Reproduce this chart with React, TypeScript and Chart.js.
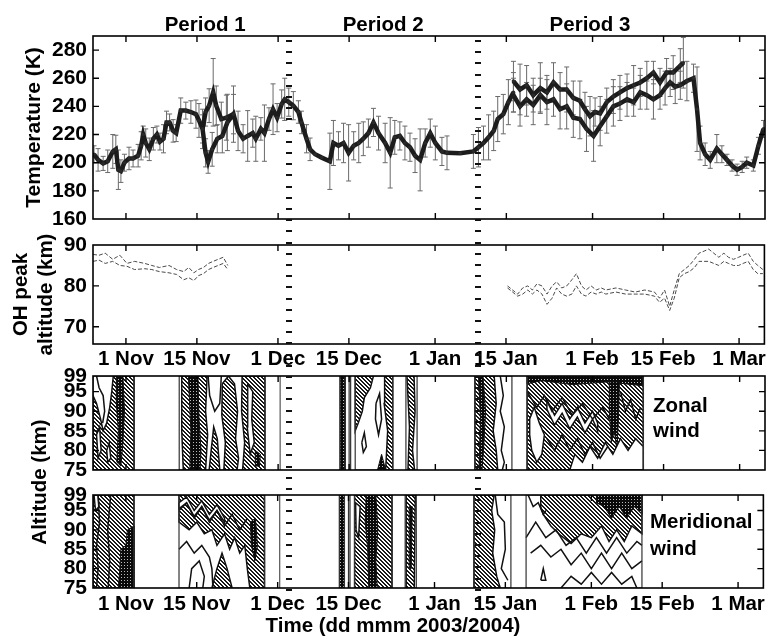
import React, { useEffect, useRef } from "react";
import { Chart, registerables } from "chart.js";
Chart.register(...registerables);

const FONT = "'Liberation Sans', Arial, Helvetica, sans-serif";

// x axis: days since 1 Nov 2003
const X_MIN = -6.5;
const X_MAX = 126;
const dateTickDays = [0, 14, 30, 44, 61, 75, 92, 106, 121];
const dateTickLabels = ["1 Nov", "15 Nov", "1 Dec", "15 Dec", "1 Jan", "15 Jan", "1 Feb", "15 Feb", "1 Mar"];
const periodBoundaryDays = [32.2, 69.4];
const periodNames = ["Period 1", "Period 2", "Period 3"];
const periodCenterDays = [15.6, 50.7, 91.5];

const tempTicks = [160, 180, 200, 220, 240, 260, 280];
const ohTicks = [70, 80, 90];
const altTicks = [75, 80, 85, 90, 95, 99];

// [day, temperature K, error K]
const tempMain: number[][] = [
  [-6.3, 206, 6], [-5.5, 202, 8], [-4.5, 199.5, 5], [-3.6, 201, 8], [-2.6, 208, 12], [-2.0, 209.5, 10],
  [-1.5, 195, 14], [-1.0, 194, 8], [-0.3, 200, 6], [0.6, 203, 8], [1.4, 203, 6], [2.4, 205, 8],
  [3.0, 212, 10], [3.4, 220, 6], [3.9, 214, 10], [4.6, 209.5, 8], [5.4, 217, 8], [6.1, 220, 6],
  [6.7, 215, 6], [7.4, 217, 10], [8.0, 228.6, 8], [8.6, 228.6, 6], [9.3, 222.6, 8], [9.9, 221, 6],
  [10.8, 237, 9], [11.8, 237, 6], [12.8, 236, 8], [13.8, 234.5, 10], [14.4, 230, 12], [15.1, 224, 14],
  [15.7, 207, 10], [16.2, 200.5, 8], [17.0, 209.5, 12], [18.0, 217, 10], [19.0, 219, 12], [20.0, 228.6, 20],
  [21.2, 234.5, 20], [22.1, 222.6, 14], [23.1, 217, 10], [24.0, 219, 18], [25.0, 221, 10], [25.6, 217, 16],
  [26.6, 224, 8], [27.3, 221, 20], [28.2, 231, 8], [29.0, 238, 18], [29.8, 232, 10], [30.7, 241.7, 10],
  [31.3, 245, 15], [32.1, 243, 10], [33.0, 240.5, 10], [34.0, 236, 8], [34.6, 228.6, 8], [35.6, 217, 10],
  [36.3, 209.5, 8], [37.3, 206, 0], [38.6, 203.6, 0], [40.2, 201, 20], [40.9, 214, 16], [41.9, 212, 10],
  [42.9, 214, 14], [43.9, 207, 20], [44.9, 212, 10], [45.9, 214, 14], [46.8, 217, 12], [47.8, 221, 10],
  [48.8, 228.6, 10], [49.8, 221, 12], [51.1, 214, 14], [52.1, 207, 25], [53.0, 218, 12], [54.0, 219, 10],
  [55.0, 214, 12], [56.0, 211, 10], [57.0, 205, 12], [58.0, 202, 22], [59.0, 214, 10], [60.0, 221, 10],
  [61.0, 214, 12], [62.3, 208, 10], [63.3, 207, 12], [65.9, 206.7, 0], [68.5, 208, 12], [69.5, 211, 14],
  [70.5, 214, 12], [71.5, 218, 16], [72.5, 222.6, 14], [73.3, 231, 16], [74.4, 234.5, 14], [75.4, 243, 16],
  [76.4, 250, 14],
];
const tempPeriod1Upper: number[][] = [
  [15.1, 224, 10], [15.7, 236, 10], [16.4, 240.5, 12], [17.2, 250, 24], [17.8, 240.5, 14],
  [18.8, 231, 12], [19.8, 232, 16], [21.2, 234.5, 14],
];
const tempPeriod3Upper: number[][] = [
  [76.4, 258, 14], [77.7, 252, 18], [79.0, 255, 14], [80.3, 248, 12], [81.7, 253, 18], [83.0, 250, 12],
  [84.3, 257, 14], [85.6, 252, 12], [86.9, 252, 16], [88.2, 246, 12], [89.5, 244, 14], [90.5, 238, 12],
  [91.5, 233, 14], [92.5, 236, 10], [93.5, 235, 12], [94.8, 243, 10], [96.1, 247, 12], [97.4, 250, 12],
  [98.8, 253, 10], [100.1, 255, 14], [101.4, 257, 10], [102.7, 260, 12], [104.0, 264, 8], [105.3, 257, 10],
  [106.6, 264, 10], [107.9, 264, 12], [109.3, 269, 12], [109.9, 271, 18],
];
const tempPeriod3Lower: number[][] = [
  [76.4, 248, 12], [77.7, 240, 14], [79.0, 245, 12], [80.3, 241, 14], [81.7, 248, 12], [83.0, 243, 16],
  [84.3, 245, 12], [85.6, 238, 14], [86.9, 240, 16], [88.2, 232, 14], [89.5, 231, 14], [90.8, 224, 16],
  [92.2, 219, 18], [93.5, 226, 14], [94.8, 233, 12], [96.1, 240, 14], [97.4, 242, 12], [98.8, 245, 12],
  [100.1, 243, 10], [101.4, 250, 12], [102.7, 248, 10], [104.0, 245, 14], [105.3, 248, 10], [106.3, 253, 12],
  [107.3, 257, 10], [108.3, 254, 12], [109.3, 255, 10], [110.6, 258, 14], [111.9, 260, 10], [112.6, 238, 30],
  [113.2, 214, 12], [114.2, 206, 8], [115.2, 202, 6], [116.5, 210, 10], [117.5, 206, 6], [118.5, 202, 4],
  [119.5, 198, 4], [120.5, 195, 4], [121.5, 197, 4], [122.4, 200, 4], [123.7, 198, 4], [124.7, 212, 6],
  [125.7, 224, 6],
];

// OH peak altitude [day, km]
const ohPeriod1Upper: number[][] = [
  [-6.5, 87.7], [-5.3, 87.5], [-4.1, 88], [-2.6, 86.5], [-1.2, 87.5], [0.2, 85.5], [1.7, 86], [3.7, 85.5],
  [5.1, 85], [6.6, 84.5], [8.5, 85], [10.0, 84], [11.4, 83.5], [12.4, 84.5], [13.4, 83.2], [14.3, 84],
  [15.3, 84.5], [16.3, 85.5], [17.2, 86], [18.2, 86.5], [19.2, 87], [20.1, 85],
];
const ohPeriod1Lower: number[][] = [
  [-6.5, 86], [-5.3, 86.3], [-4.1, 85.5], [-2.6, 86], [-1.2, 85], [0.2, 84.8], [1.7, 84], [3.7, 84.2],
  [5.1, 84], [6.6, 83.5], [8.5, 83.2], [10.0, 82.8], [11.4, 81.5], [12.4, 82], [13.4, 81.3], [14.3, 82.5],
  [15.3, 83], [16.3, 84], [17.2, 84.5], [18.2, 85], [19.2, 85.5], [20.1, 84],
];
const ohPeriod3Upper: number[][] = [
  [75.3, 80], [76.3, 79], [77.3, 78], [78.3, 79.5], [79.3, 80], [80.2, 79], [81.1, 80.5], [82.1, 80],
  [83.1, 78], [84.1, 80], [85.0, 81], [86.0, 79.5], [87.0, 80], [88.0, 81.5], [88.9, 83], [89.9, 80],
  [90.8, 79], [91.8, 80], [92.8, 79], [93.8, 79.5], [94.7, 79], [96.7, 79.5], [98.6, 79], [100.5, 78.5],
  [102.4, 79], [104.3, 78.5], [105.3, 77], [106.3, 79], [107.3, 75], [108.2, 79], [109.2, 83], [110.2, 84],
  [111.2, 85], [112.2, 86.5], [113.1, 88], [114.1, 88.5], [115.0, 89], [116.0, 88], [117.0, 87], [118.0, 88],
  [118.9, 87], [119.9, 86.5], [120.9, 87], [121.8, 87.5], [122.8, 88], [123.8, 86], [124.7, 85], [125.7, 84],
];
const ohPeriod3Lower: number[][] = [
  [75.3, 79.5], [76.3, 78.5], [77.3, 77.5], [78.3, 78], [79.3, 79], [80.2, 78], [81.1, 79], [82.1, 78],
  [83.1, 75.5], [84.1, 77], [85.0, 79.5], [86.0, 78], [87.0, 77.5], [88.0, 78], [88.9, 80], [89.9, 78],
  [90.8, 77.5], [91.8, 78.5], [92.8, 78], [93.8, 78.5], [94.7, 78], [96.7, 78.5], [98.6, 78], [100.5, 78],
  [102.4, 78], [104.3, 77.5], [105.3, 76], [106.3, 77], [107.3, 74], [108.2, 77], [109.2, 82], [110.2, 83],
  [111.2, 83.5], [112.2, 84.5], [113.1, 86], [114.1, 86], [115.0, 86], [116.0, 85.5], [117.0, 85], [118.0, 86],
  [118.9, 85.5], [119.9, 85], [120.9, 85], [121.8, 85.5], [122.8, 86], [123.8, 84], [124.7, 83], [125.7, 83],
];

// Wind data windows [start day, end day]
const zonalWindows: number[][] = [[-6.5, 1.6], [10.5, 27.4], [42.2, 43.2], [44.0, 44.3], [45.2, 52.6], [55.2, 57.4], [68.8, 76.1], [79.1, 102.0]];
const meridionalWindows: number[][] = [[-6.5, 1.6], [10.5, 27.4], [42.2, 43.2], [44.0, 44.3], [45.2, 52.6], [55.2, 57.4], [68.8, 76.1], [79.1, 102.0]];
const radarGapLineDays = [30.4];

// Contour regions [day, altitude km]
const zonalHatched: number[][][] = [
  [[-6.5, 75], [-6.5, 94], [-5.8, 92], [-5.0, 88], [-4.5, 85], [-3.8, 87], [-3.2, 91], [-2.8, 95], [-2.5, 99], [1.6, 99], [1.6, 75]],
  [[11.0, 99], [16.0, 99], [15.7, 90], [16.1, 84], [15.7, 75], [11.3, 75], [11.0, 85]],
  [[16.4, 75], [16.8, 80], [17.3, 86], [18.0, 83], [18.5, 75]],
  [[19.0, 97], [20.2, 99], [21.4, 97], [22.0, 90], [21.6, 83], [22.2, 78], [21.9, 75], [19.3, 75], [19.6, 82], [18.9, 89]],
  [[22.9, 99], [27.4, 99], [27.4, 75], [23.0, 75], [23.4, 82], [22.8, 90]],
  [[45.2, 99], [48.8, 99], [48.2, 96], [47.0, 93.5], [46.6, 90], [45.8, 87], [45.2, 85]],
  [[51.0, 99], [52.6, 99], [52.6, 75], [51.2, 75], [51.6, 85], [50.9, 92]],
  [[55.4, 99], [56.8, 99], [57.0, 90], [56.5, 80], [56.9, 75], [55.6, 75], [55.9, 86]],
  [[68.8, 99], [72.6, 99], [73.0, 92], [72.4, 85], [73.0, 80], [73.3, 75], [68.8, 75]],
  [[79.1, 75], [79.1, 99], [102.0, 99], [102.0, 75]],
];
const zonalDark: number[][][] = [
  [[-1.9, 99], [-0.6, 99], [-0.3, 90], [-0.6, 82], [-1.0, 76], [-1.8, 77], [-1.5, 85], [-1.9, 92]],
  [[12.3, 99], [14.2, 99], [14.4, 88], [14.8, 80], [14.6, 75], [12.6, 75], [12.8, 85]],
  [[25.5, 80], [26.5, 79], [26.3, 76], [25.6, 76]],
  [[42.2, 99], [43.2, 99], [43.2, 75], [42.2, 75]],
  [[49.6, 75], [50.4, 79], [51.2, 75]],
  [[69.5, 99], [70.4, 99], [70.9, 90], [70.5, 80], [70.2, 75], [69.6, 75], [69.9, 88]],
  [[79.1, 99], [102.0, 99], [102.0, 96.5], [95.0, 97.5], [88.0, 96.8], [82.0, 97.8], [79.1, 97]],
  [[95.3, 97.5], [97.3, 97.5], [97.1, 88], [96.8, 80], [96.3, 85], [95.7, 82], [95.3, 90]],
];
const zonalClear: number[][][] = [
  [[-5.8, 84], [-5.2, 86], [-4.9, 80], [-5.5, 78]],
  [[-3.8, 80], [-3.3, 82], [-3.0, 78], [-3.6, 77]],
  [[24.0, 97], [25.0, 95], [24.8, 88], [25.3, 82], [24.5, 79], [23.9, 86]],
  [[79.6, 88], [80.5, 91], [81.5, 87], [82.5, 84], [82.0, 79], [81.0, 77], [80.0, 80], [79.6, 84]],
  [[83.0, 93], [84.5, 89], [86.0, 92], [87.5, 88], [89.0, 91], [90.5, 87], [92.0, 90], [93.0, 87], [93.0, 85], [92.0, 88], [90.5, 84.5], [89.0, 88.5], [87.5, 85.5], [86.0, 89.5], [84.5, 86.5], [83.0, 90.5]],
  [[87.5, 75], [88.5, 79], [90.0, 77], [91.5, 81], [93.0, 78], [94.5, 82], [96.0, 79], [97.5, 83], [99.0, 80], [100.5, 83], [102.0, 81], [102.0, 75]],
];
const zonalContours: number[][][] = [
  [[-5.8, 99], [-5.3, 96], [-4.5, 94], [-4.2, 90], [-4.6, 87]],
  [[16.2, 99], [16.5, 94], [17.5, 90], [18.5, 92], [18.8, 99]],
  [[46.5, 82], [47.0, 84.5], [47.4, 81], [46.8, 79.5], [46.5, 82]],
  [[49.3, 92], [50.0, 94.5], [50.4, 88], [49.8, 84], [49.2, 88], [49.3, 92]],
  [[73.8, 99], [74.4, 94], [73.8, 90], [74.6, 86], [74.0, 80], [74.6, 77], [74.2, 75]],
  [[79.1, 95], [81.0, 91], [82.5, 94], [84.0, 90], [86.0, 93.5], [88.0, 89], [90.0, 92], [92.0, 88], [94.0, 91], [95.3, 88]],
  [[83.0, 83], [84.5, 80], [86.0, 84], [87.5, 80], [89.0, 83], [90.5, 79], [92.0, 82], [93.5, 78], [95.0, 81]],
  [[97.5, 95], [98.5, 90], [99.5, 93], [100.5, 88], [101.5, 91]],
];

const meridionalHatched: number[][][] = [
  [[-6.5, 75], [-6.5, 99], [1.6, 99], [1.6, 75]],
  [[10.5, 99], [27.4, 99], [27.4, 75], [24.5, 75], [24.0, 80], [23.5, 86], [22.5, 84], [21.5, 88], [20.5, 85], [19.5, 89], [18.0, 86], [17.0, 90], [15.5, 89], [14.0, 92], [12.5, 90], [10.5, 92]],
  [[17.0, 75], [18.0, 80], [19.0, 84], [20.0, 80], [21.0, 75]],
  [[45.2, 99], [52.6, 99], [52.6, 75], [45.2, 75]],
  [[55.4, 99], [57.2, 99], [57.0, 75], [55.5, 75]],
  [[68.8, 99], [72.8, 99], [72.3, 95], [72.9, 90], [72.5, 84], [73.3, 78], [74.0, 75], [68.8, 75]],
  [[82.0, 99], [102.0, 99], [102.0, 89], [100.0, 91], [98.5, 87], [97.0, 90], [95.5, 87], [94.0, 91], [92.0, 88], [90.0, 89], [88.0, 86.5], [86.0, 88.5], [84.0, 91], [82.5, 94], [82.0, 96]],
];
const meridionalDark: number[][][] = [
  [[-1.5, 75], [-1.2, 80], [-1.0, 85], [0.0, 86], [0.3, 90], [1.6, 91], [1.6, 75]],
  [[24.6, 92], [25.6, 93], [26.0, 86], [25.5, 82], [24.8, 86]],
  [[42.2, 99], [43.2, 99], [43.2, 75], [42.2, 75]],
  [[47.5, 99], [49.4, 99], [49.8, 90], [49.4, 82], [49.7, 75], [48.0, 75], [47.8, 85], [47.3, 92]],
  [[56.0, 96], [56.6, 96], [56.4, 80], [56.0, 80]],
  [[93.0, 99], [102.0, 99], [102.0, 94], [100.5, 96], [99.0, 93], [97.5, 96], [96.0, 93], [94.5, 96], [93.0, 97]],
];
const meridionalClear: number[][][] = [
  [[-6.3, 99], [-5.5, 99], [-5.3, 96], [-6.0, 95]],
  [[45.4, 97], [46.3, 96], [46.0, 88], [45.5, 90]],
  [[10.5, 97], [12.0, 98.5], [13.5, 95], [15.0, 97.5], [16.5, 94], [18.0, 96.5], [19.5, 93], [19.5, 92], [18.0, 95], [16.5, 92.5], [15.0, 96], [13.5, 93.5], [12.0, 97], [10.5, 95.5]],
];
const meridionalContours: number[][][] = [
  [[-5.8, 75], [-5.5, 80], [-5.8, 86], [-5.2, 92], [-5.5, 99]],
  [[-3.5, 75], [-3.2, 82], [-3.6, 90], [-3.0, 99]],
  [[10.5, 95], [12.0, 97], [13.5, 93], [15.0, 96], [16.5, 92], [18.0, 95], [19.5, 91], [21.0, 94], [22.5, 90], [24.0, 93]],
  [[10.5, 85], [12.0, 87], [13.5, 84], [15.0, 86], [16.5, 83], [17.0, 80], [17.2, 75]],
  [[12.5, 75], [13.0, 80], [14.5, 82], [15.5, 78], [15.2, 75]],
  [[73.0, 99], [73.5, 94], [74.8, 92], [75.0, 85], [74.2, 80], [75.5, 77]],
  [[79.1, 88], [81.0, 92], [83.0, 88], [85.0, 90], [87.0, 86], [89.0, 88], [91.0, 84], [93.0, 88], [95.0, 84], [97.0, 88], [99.0, 84], [101.0, 87], [102.0, 86]],
  [[80.0, 84], [82.0, 86], [84.0, 83], [86.0, 85], [88.0, 81], [90.0, 84], [92.0, 80], [94.0, 84], [96.0, 80], [98.0, 84], [100.0, 80], [102.0, 82]],
  [[86.0, 75], [88.0, 78], [90.0, 76], [92.0, 79], [94.0, 76], [96.0, 79], [98.0, 76], [100.0, 78], [101.0, 75]],
  [[82.0, 77], [82.5, 80], [83.0, 77], [82.0, 77]],
  [[79.5, 99], [80.5, 96], [81.5, 97], [82.5, 94], [83.0, 95]],
];

// ---------- helpers ----------
const W = 769;
const H = 640;
const PLOT_LEFT = 93;
const PLOT_RIGHT = 765;
const XAXIS_H = 30;

function boldFont(size: number) {
  return { family: FONT, size, weight: "bold" as const };
}

function xScale(showLabels: boolean, pad: number) {
  return {
    type: "linear",
    min: X_MIN,
    max: X_MAX,
    afterBuildTicks: (s: any) => {
      s.ticks = dateTickDays.map((v) => ({ value: v }));
    },
    afterFit: (s: any) => {
      s.height = XAXIS_H;
    },
    grid: { display: false, drawTicks: false },
    border: { display: false },
    ticks: {
      display: showLabels,
      autoSkip: false,
      maxRotation: 0,
      minRotation: 0,
      padding: pad,
      color: "#000",
      font: boldFont(20.5),
      callback: (v: number) => {
        const i = dateTickDays.indexOf(v);
        return i >= 0 ? dateTickLabels[i] : "";
      },
    },
  };
}

function yScale(min: number, max: number, ticks: number[], title?: any) {
  return {
    type: "linear",
    min,
    max,
    afterBuildTicks: (s: any) => {
      s.ticks = ticks.map((v) => ({ value: v }));
    },
    afterFit: (s: any) => {
      s.width = PLOT_LEFT;
    },
    grid: { display: false, drawTicks: false },
    border: { display: false },
    ticks: { autoSkip: false, padding: 6, color: "#000", font: boldFont(21) },
    title: title || { display: false },
  };
}

const frameTicksPlugin = {
  id: "frameTicks",
  afterDatasetsDraw(chart: any) {
    const { ctx, chartArea: a, scales } = chart;
    ctx.save();
    ctx.strokeStyle = "#000";
    ctx.lineWidth = 1.6;
    ctx.strokeRect(a.left, a.top, a.right - a.left, a.bottom - a.top);
    ctx.lineWidth = 1.4;
    ctx.beginPath();
    for (const d of dateTickDays) {
      const x = scales.x.getPixelForValue(d);
      ctx.moveTo(x, a.top);
      ctx.lineTo(x, a.top + 6);
      ctx.moveTo(x, a.bottom);
      ctx.lineTo(x, a.bottom - 6);
    }
    for (const t of scales.y.ticks) {
      const y = scales.y.getPixelForValue(t.value);
      if (y < a.top + 2 || y > a.bottom - 2) continue;
      ctx.moveTo(a.left, y);
      ctx.lineTo(a.left + 6, y);
      ctx.moveTo(a.right, y);
      ctx.lineTo(a.right - 6, y);
    }
    ctx.stroke();
    ctx.restore();
  },
};

const errorBarPlugin = {
  id: "errorBars",
  beforeDatasetsDraw(chart: any) {
    const { ctx, chartArea: a } = chart;
    const ys = chart.scales.y;
    ctx.save();
    ctx.beginPath();
    ctx.rect(a.left, a.top - 4, a.right - a.left, a.bottom - a.top + 4);
    ctx.clip();
    ctx.strokeStyle = "#6a6a6a";
    ctx.lineWidth = 1;
    chart.data.datasets.forEach((ds: any, i: number) => {
      if (!ds.errors) return;
      const meta = chart.getDatasetMeta(i);
      meta.data.forEach((pt: any, j: number) => {
        const e = ds.errors[j];
        if (!e) return;
        const v = ds.data[j].y;
        const x = pt.x;
        const y1 = ys.getPixelForValue(v + e);
        const y2 = ys.getPixelForValue(v - e);
        ctx.beginPath();
        ctx.moveTo(x, y1);
        ctx.lineTo(x, y2);
        ctx.moveTo(x - 2.5, y1);
        ctx.lineTo(x + 2.5, y1);
        ctx.moveTo(x - 2.5, y2);
        ctx.lineTo(x + 2.5, y2);
        ctx.stroke();
      });
    });
    ctx.restore();
  },
};

const periodPlugin = {
  id: "periods",
  afterDraw(chart: any) {
    const { ctx } = chart;
    const xs = chart.scales.x;
    ctx.save();
    ctx.fillStyle = "#000";
    ctx.font = `bold 20.5px ${FONT}`;
    ctx.textAlign = "center";
    ctx.textBaseline = "alphabetic";
    periodNames.forEach((n, i) => ctx.fillText(n, xs.getPixelForValue(periodCenterDays[i]), 31));
    ctx.fillStyle = "#111";
    for (const d of periodBoundaryDays) {
      const x = Math.round(xs.getPixelForValue(d));
      for (let y = 40; y < 604; y += 11.2) ctx.fillRect(x - 3, Math.round(y), 6, 2);
    }
    ctx.restore();
  },
};

function labelPlugin(lines: { text: string; x: number; y: number; align?: CanvasTextAlign; rotate?: boolean; size?: number }[]) {
  return {
    id: "labels",
    afterDraw(chart: any) {
      const { ctx } = chart;
      ctx.save();
      ctx.fillStyle = "#000";
      for (const l of lines) {
        ctx.save();
        ctx.font = `bold ${l.size || 20.5}px ${FONT}`;
        ctx.textAlign = l.align || "left";
        ctx.textBaseline = l.rotate ? "middle" : "alphabetic";
        ctx.translate(l.x, l.y);
        if (l.rotate) ctx.rotate(-Math.PI / 2);
        ctx.fillText(l.text, 0, 0);
        ctx.restore();
      }
      ctx.restore();
    },
  };
}

function makePatterns(ctx: CanvasRenderingContext2D) {
  const h = document.createElement("canvas");
  h.width = 4;
  h.height = 4;
  const hc = h.getContext("2d")!;
  hc.fillStyle = "#fff";
  hc.fillRect(0, 0, 4, 4);
  hc.fillStyle = "#1a1a1a";
  for (let i = 0; i < 4; i++) {
    hc.fillRect(i, i, 1, 1);
    hc.fillRect((i + 1) % 4, i, 1, 1);
  }
  const d = document.createElement("canvas");
  d.width = 3;
  d.height = 3;
  const dc = d.getContext("2d")!;
  dc.fillStyle = "#0a0a0a";
  dc.fillRect(0, 0, 3, 3);
  dc.fillStyle = "#bbb";
  dc.fillRect(1, 1, 1, 1);
  return {
    hatch: ctx.createPattern(h, "repeat")!,
    dark: ctx.createPattern(d, "repeat")!,
  };
}

function toXY(pts: number[][]) {
  return pts.map((p) => ({ x: p[0], y: p[1] }));
}

function closed(pts: number[][]) {
  return [...pts, pts[0]];
}

function windDatasets(
  windows: number[][],
  hatched: number[][][],
  dark: number[][][],
  clear: number[][][],
  contours: number[][][],
  pats: { hatch: CanvasPattern; dark: CanvasPattern }
) {
  const ds: any[] = [];
  const poly = (p: number[][], bg: any, bw: number, color = "#111") => ({
    data: toXY(closed(p)),
    fill: bg ? "shape" : false,
    backgroundColor: bg || "transparent",
    borderColor: color,
    borderWidth: bw,
    pointRadius: 0,
    tension: 0,
  });
  hatched.forEach((p) => ds.push(poly(p, pats.hatch, 1.5)));
  dark.forEach((p) => ds.push(poly(p, pats.dark, 1)));
  clear.forEach((p) => ds.push(poly(p, "#fff", 1.5)));
  contours.forEach((l) =>
    ds.push({ data: toXY(l), fill: false, borderColor: "#111", borderWidth: 1.5, pointRadius: 0, tension: 0 })
  );
  windows.forEach(([a, b]) => ds.push(poly([[a, 75], [a, 99], [b, 99], [b, 75]], null, 1.2, "#333")));
  radarGapLineDays.forEach((d) =>
    ds.push({ data: toXY([[d, 75], [d, 99]]), fill: false, borderColor: "#555", borderWidth: 1.2, pointRadius: 0 })
  );
  return ds.map((d, i) => ({ ...d, order: ds.length - i }));
}

function baseOptions(top: number, bottom: number, xs: any, ys: any) {
  return {
    responsive: false,
    animation: false,
    devicePixelRatio: 1,
    events: [],
    layout: { padding: { top, bottom: H - bottom - XAXIS_H, left: 0, right: W - PLOT_RIGHT } },
    plugins: { legend: { display: false }, tooltip: { enabled: false }, title: { display: false } },
    scales: { x: xs, y: ys },
  };
}

function tempDataset(rows: number[][]) {
  return {
    data: rows.map((r) => ({ x: r[0], y: r[1] })),
    errors: rows.map((r) => r[2]),
    borderColor: "#1c1c1c",
    borderWidth: 4.5,
    pointRadius: 1.8,
    pointBackgroundColor: "#2a2a2a",
    pointBorderColor: "#2a2a2a",
    pointBorderWidth: 0,
    fill: false,
    tension: 0,
  };
}

function ohDataset(rows: number[][]) {
  return {
    data: toXY(rows),
    borderColor: "#4a4a4a",
    borderWidth: 1,
    borderDash: [4, 2],
    pointRadius: 0,
    fill: false,
    tension: 0,
  };
}

export default function App() {
  const tRef = useRef<HTMLCanvasElement>(null);
  const oRef = useRef<HTMLCanvasElement>(null);
  const zRef = useRef<HTMLCanvasElement>(null);
  const mRef = useRef<HTMLCanvasElement>(null);

  useEffect(() => {
    const charts: Chart[] = [];

    // Meridional wind
    const mctx = mRef.current!.getContext("2d")!;
    const mp = makePatterns(mctx);
    charts.push(
      new Chart(mRef.current!, {
        type: "line",
        data: { datasets: windDatasets(meridionalWindows, meridionalHatched, meridionalDark, meridionalClear, meridionalContours, mp) },
        options: baseOptions(495, 588, xScale(true, 4), yScale(75, 99, altTicks)) as any,
        plugins: [
          frameTicksPlugin,
          labelPlugin([
            { text: "Meridional", x: 650, y: 528 },
            { text: "wind", x: 650, y: 555 },
            { text: "Time (dd mmm 2003/2004)", x: 393, y: 632, align: "center" },
          ]),
        ],
      } as any)
    );

    // Zonal wind
    const zctx = zRef.current!.getContext("2d")!;
    const zp = makePatterns(zctx);
    charts.push(
      new Chart(zRef.current!, {
        type: "line",
        data: { datasets: windDatasets(zonalWindows, zonalHatched, zonalDark, zonalClear, zonalContours, zp) },
        options: baseOptions(376, 470, xScale(false, 4), yScale(75, 99, altTicks)) as any,
        plugins: [
          frameTicksPlugin,
          labelPlugin([
            { text: "Zonal", x: 653, y: 412 },
            { text: "wind", x: 653, y: 437 },
            { text: "Altitude (km)", x: 40, y: 482, align: "center", rotate: true },
          ]),
        ],
      } as any)
    );

    // OH peak altitude
    charts.push(
      new Chart(oRef.current!, {
        type: "line",
        data: {
          datasets: [ohDataset(ohPeriod1Upper), ohDataset(ohPeriod1Lower), ohDataset(ohPeriod3Upper), ohDataset(ohPeriod3Lower)],
        },
        options: baseOptions(
          245,
          344,
          xScale(true, 3),
          yScale(65.8, 90, ohTicks, {
            display: true,
            text: ["OH peak", "altitude (km)"],
            color: "#000",
            font: boldFont(20.5),
            padding: { top: 9, bottom: 0 },
          })
        ) as any,
        plugins: [frameTicksPlugin],
      } as any)
    );

    // Temperature
    charts.push(
      new Chart(tRef.current!, {
        type: "line",
        data: {
          datasets: [
            tempDataset(tempMain),
            tempDataset(tempPeriod1Upper),
            tempDataset(tempPeriod3Upper),
            tempDataset(tempPeriod3Lower),
          ],
        },
        options: baseOptions(
          36,
          219,
          xScale(false, 3),
          yScale(160, 290, tempTicks, {
            display: true,
            text: "Temperature (K)",
            color: "#000",
            font: boldFont(21),
            padding: { top: 22, bottom: 0 },
          })
        ) as any,
        plugins: [errorBarPlugin, frameTicksPlugin, periodPlugin],
      } as any)
    );

    return () => charts.forEach((c) => c.destroy());
  }, []);

  const cStyle: React.CSSProperties = { position: "absolute", left: 0, top: 0 };
  return (
    <div style={{ position: "fixed", left: 0, top: 0, width: W, height: H, background: "#fff", overflow: "hidden" }}>
      <canvas ref={mRef} width={W} height={H} style={cStyle} />
      <canvas ref={zRef} width={W} height={H} style={cStyle} />
      <canvas ref={oRef} width={W} height={H} style={cStyle} />
      <canvas ref={tRef} width={W} height={H} style={cStyle} />
    </div>
  );
}
